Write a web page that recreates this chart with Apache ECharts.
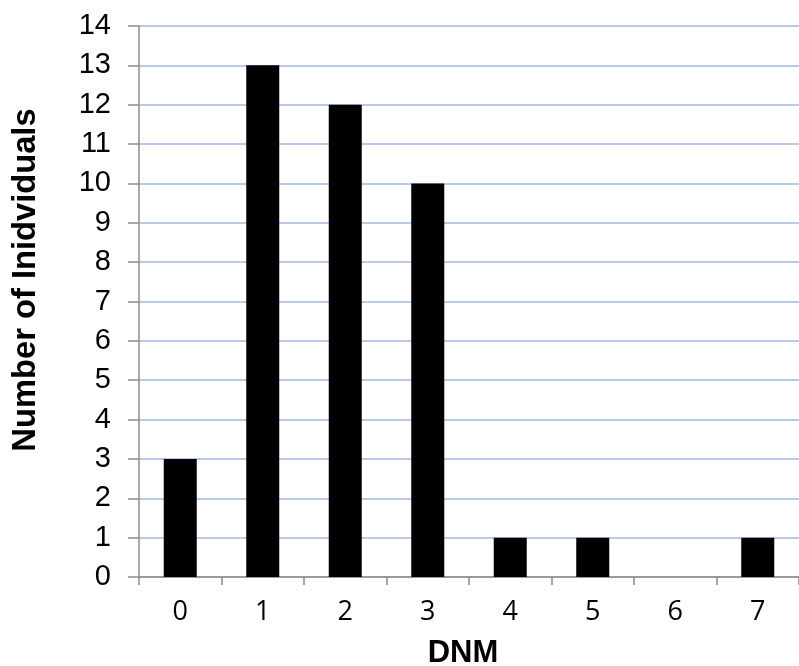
<!DOCTYPE html>
<html><head><meta charset="utf-8">
<script src="https://cdn.jsdelivr.net/npm/echarts@6/dist/echarts.min.js"></script>
<style>html,body{margin:0;padding:0;background:#fff}#c{width:799px;height:666px}</style>
</head><body><div id="c"></div>
<script>
const categories = ['0','1','2','3','4','5','6','7'];
const counts = [3, 13, 12, 10, 1, 1, 0, 1];
const xTitle = 'DNM';
const yTitle = 'Number of Inidviduals';

const chart = echarts.init(document.getElementById('c'), null, {renderer:'canvas'});
chart.setOption({
  animation: false,
  grid: {left: 139, top: 26, width: 666, height: 551},
  graphic: [
    {type: 'text', x: 463, y: 653, style: {text: xTitle, font: 'bold 31px "Liberation Sans"', fill: '#000', textAlign: 'center', textVerticalAlign: 'middle'}},
    {type: 'text', x: 26, y: 280, rotation: Math.PI/2, style: {text: yTitle, font: 'bold 32.7px "Liberation Sans"', fill: '#000', textAlign: 'center', textVerticalAlign: 'middle'}}
  ],
  xAxis: {
    type: 'category', data: categories,
    axisLine: {lineStyle: {color: '#8c8c8c', width: 1.5}},
    axisTick: {show: true, length: 8, lineStyle: {color: '#8c8c8c', width: 1.5}},
    axisLabel: {fontFamily: 'Open Sans', fontSize: 27, color: '#000', margin: 22},
    splitLine: {show: false}
  },
  yAxis: {
    type: 'value', min: 0, max: 14, interval: 1,
    axisLine: {show: true, lineStyle: {color: '#8c8c8c', width: 1.5}},
    axisTick: {show: true, length: 11, lineStyle: {color: '#8c8c8c', width: 1.5}},
    axisLabel: {fontFamily: 'Liberation Sans', fontSize: 29, color: '#000', margin: 28},
    splitLine: {show: true, lineStyle: {color: '#a0b9e6', width: 1.5}}
  },
  series: [{
    type: 'bar', data: counts, barWidth: '40%',
    itemStyle: {color: '#000'}
  }]
});
</script></body></html>
